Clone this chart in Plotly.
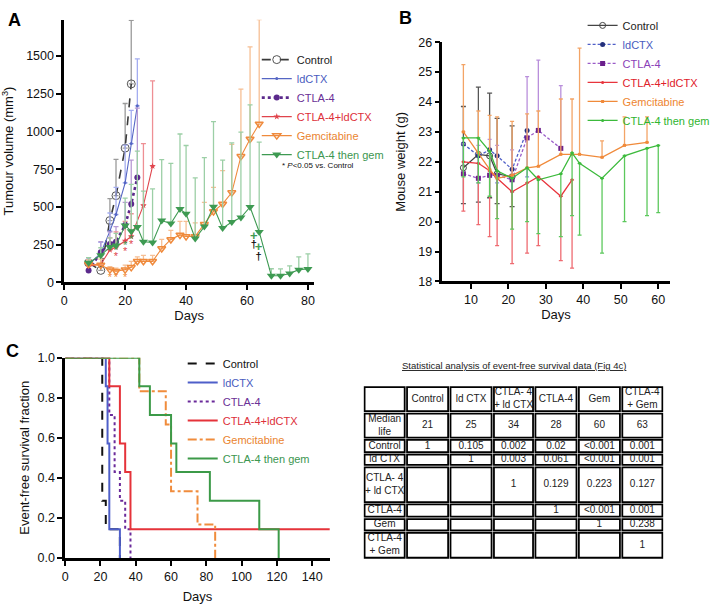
import plotly.graph_objects as go

W, H = 715, 605
NARROW = "Liberation Sans Narrow, Arial Narrow, Liberation Sans, Arial, sans-serif"
SANS = "Liberation Sans, Arial, sans-serif"

names = ["Control", "ldCTX", "CTLA-4", "CTLA-4+ldCTX", "Gemcitabine", "CTLA-4 then gem"]

# ---- A: tumour volume (mm3), mean + upper error
a_days = [8, 12, 15, 17, 20, 22, 24, 26, 29, 32, 35, 38, 40, 43, 46, 49, 52, 55, 58, 61, 64, 68, 71, 74, 77, 80]
a_ctrl = [130, 80, 410, 575, 890, 1315]
a_ctrl_err = [35, 30, 145, 240, 295, 420]
a_ld = [115, 195, 340, 450, 660, 920, 1170]
a_ld_err = [40, 70, 120, 180, 250, 220, 310]
a_ctla = [80, 200, 255, 270, 380, 520, 695]
a_ctla_err = [30, 70, 80, 100, 150, 290, 460]
a_combo_days = [8, 12, 15, 17, 20, 22, 26, 29]
a_combo = [110, 120, 215, 235, 275, 305, 510, 770]
a_combo_err = [40, 60, 80, 100, 130, 150, 410, 565]
a_gem = [120, 115, 85, 75, 85, 100, 140, 140, 140, 225, 285, 315, 305, 305, 385, 470, 520, 595, 835, 950, 1050]
a_gem_err = [30, 40, 20, 20, 30, 40, 30, 40, 40, 60, 60, 90, 100, 90, 145, 160, 220, 320, 445, 610, 690]
a_seq = [130, 180, 235, 245, 378, 340, 367, 270, 265, 410, 390, 486, 455, 291, 370, 501, 360, 400, 430, 500, 335,
         45, 45, 60, 85, 90]
a_seq_err = [35, 50, 60, 80, 180, 310, 503, 335, 355, 404, 398, 497, 452, 401, 457, 564, 450, 524, 565, 676, 595,
             46, 45, 50, 85, 100]
# significance marks
star_gem_days = [15, 17, 20]
star_gem = [30, 30, 30]
star_days = [17, 20, 22]
star_seq = [205, 240, 280]
star_combo = [165, 200, 245]
mark_days = [62.2, 63.8]
plus_seq = [300, 232]
dagger = [245, 170]

# ---- B: mouse weight (g)
b_days = [8, 12, 15, 17, 21, 25, 28, 34, 37, 39, 45, 51, 57, 60]
b_ctrl = [21.8, 22.25, 22.2, 21.6, 21.5]
b_ctrl_up = [2.05, 2.25, 2.1, 1.85, 1.7]
b_ctrl_dn = [1.2, 1.6, 1.4, 1.0, 1.0]
b_ld = [22.6, 22.2, 22.4, 22.2, 21.75, 23.05]
b_ld_dn = [1.0, 0.9, 0.9, 0.9, 0.75, 1.55]
b_ctla = [21.6, 21.45, 21.55, 21.55, 21.4, 22.8, 23.05, 22.45]
b_ctla_up = [1.0, 1.1, 1.2, 1.0, 1.0, 2.05, 2.35, 2.1]
b_combo = [22.0, 21.95, 21.7, 21.45, 21.0, 21.3, 21.5, 20.85, 21.4]
b_combo_dn = [1.65, 2.05, 2.2, 2.25, 2.4, 2.35, 2.3, 2.15, 2.95]
b_gem = [23.0, 22.3, 21.75, 21.45, 21.55, 21.8, 21.85, 22.25, 22.25, 22.25, 22.15, 22.55, 22.65]
b_gem_up = [2.25, 1.4, 1.8, 2.05, 1.8, 1.8, 1.85, 1.85, 1.85, 3.55, 0.55, 0.95, 0.85]
b_seq = [22.8, 22.8, 22.35, 21.7, 21.45, 21.8, 21.4, 21.6, 22.3, 21.95, 21.45, 22.2, 22.45, 22.55]
b_seq_dn = [1.3, 1.5, 1.5, 1.6, 1.7, 1.8, 1.8, 2.1, 2.1, 2.4, 2.5, 2.2, 2.25, 2.25]

# ---- C: event-free survival (step times / fraction)
c_ctrl_t = [0, 21, 23, 31]
c_ctrl_s = [1.0, 0.286, 0.143, 0.0]
c_ld_t = [0, 23, 24, 25, 31]
c_ld_s = [1.0, 0.857, 0.571, 0.143, 0.0]
c_ctla_t = [0, 25, 28, 31, 34, 37]
c_ctla_s = [1.0, 0.714, 0.429, 0.286, 0.143, 0.0]
c_combo_t = [0, 25, 31, 34, 37, 150]
c_combo_s = [1.0, 0.857, 0.571, 0.429, 0.143, 0.143]
c_gem_t = [0, 42, 57, 60, 75, 85]
c_gem_s = [1.0, 0.833, 0.667, 0.333, 0.167, 0.0]
c_seq_t = [0, 42, 48, 60, 63, 82, 110, 121]
c_seq_s = [1.0, 0.857, 0.714, 0.571, 0.429, 0.286, 0.143, 0.0]

# ---- table: stats of event-free survival
tbl_cols = ["Control", "ld CTX", "CTLA- 4<br>+ ld CTX", "CTLA-4", "Gem", "CTLA-4<br>+ Gem"]
tbl_rows = ["Median<br>life", "Control", "ld CTX", "CTLA- 4<br>+ ld CTX", "CTLA-4", "Gem", "CTLA-4<br>+ Gem"]
median_life = ["21", "25", "34", "28", "60", "63"]
p_values = [
    ["1", "0.105", "0.002", "0.02", "&lt;0.001", "0.001"],
    ["", "1", "0.003", "0.061", "&lt;0.001", "0.001"],
    ["", "", "1", "0.129", "0.223", "0.127"],
    ["", "", "", "1", "&lt;0.001", "0.001"],
    ["", "", "", "", "1", "0.238"],
    ["", "", "", "", "", "1"],
]
# cell geometry (pixels)
col_w = [43, 44, 44, 42, 44, 44, 43]
row_h = [27, 27, 15, 13, 38, 15, 14, 28]


def px(x):
    return x / W


def py(y):
    return 1 - y / H


def lab(name, color):
    return f'<span style="color:{color}">{name}</span>'


def up_err(vals, color, width=2.5):
    return dict(type="data", array=vals, arrayminus=[0] * len(vals), symmetric=False,
                color=color, thickness=1.3, width=width)


def dn_err(vals, color, width=2):
    return dict(type="data", array=[0] * len(vals), arrayminus=vals, symmetric=False,
                color=color, thickness=1.3, width=width)


fig = go.Figure()

# Panel A
a_style = [
    ("#3a3a3a", "#9a9a9a", a_days[:6], a_ctrl, a_ctrl_err, dict(symbol="circle-open", size=8, color="#555"), "dash", 1.6, "#222"),
    ("#5566c4", "#a4adf0", a_days[:7], a_ld, a_ld_err, dict(symbol="circle", size=3), "solid", 1.1, "#4a5cc0"),
    ("#5b2a8c", "#b79ad4", a_days[:7], a_ctla, a_ctla_err, dict(symbol="circle", size=6), "dot", 2.6, "#6a3096"),
    ("#e0444c", "#ee8f94", a_combo_days, a_combo, a_combo_err, dict(symbol="star", size=5), "solid", 1.1, "#dd2f3a"),
    ("#ef8a3c", "#f6bf94", a_days[:21], a_gem, a_gem_err, dict(symbol="triangle-down-open", size=7, line=dict(width=1.5)), "solid", 1.1, "#ea8430"),
    ("#3e9a52", "#9ccfa6", a_days, a_seq, a_seq_err, dict(symbol="triangle-down", size=8), "solid", 1.1, "#3c9650"),
]
for name, (c, ec, d, v, e, mk, dash, lw, tc) in zip(names, a_style):
    mk = dict(mk)
    mk.setdefault("color", c)
    fig.add_trace(go.Scatter(
        x=d, y=v, mode="lines+markers", name=lab(name, tc), legend="legend",
        line=dict(color=c, width=lw, dash=dash), marker=mk,
        error_y=up_err(e, ec), xaxis="x", yaxis="y", cliponaxis=False))

for d, v, c in [(star_gem_days, star_gem, "#ef8a3c"), (star_days, star_seq, "#3e9a52"), (star_days, star_combo, "#e0444c")]:
    fig.add_trace(go.Scatter(x=d, y=v, mode="text", text=["*"] * len(d), showlegend=False,
                             textfont=dict(color=c, size=11, family=SANS), xaxis="x", yaxis="y"))
fig.add_trace(go.Scatter(x=mark_days, y=plus_seq, mode="text", text=["<b>+</b>"] * 2, showlegend=False,
                         textfont=dict(color="#3e9a52", size=13, family=SANS), xaxis="x", yaxis="y"))
fig.add_trace(go.Scatter(x=mark_days, y=dagger, mode="text", text=["<b>†</b>"] * 2, showlegend=False,
                         textfont=dict(color="#111", size=11, family=SANS), xaxis="x", yaxis="y"))

# Panel B
b_style = [
    ("#444444", b_days[:5], b_ctrl, dict(type="data", array=b_ctrl_up, arrayminus=b_ctrl_dn, symmetric=False, color="#555", thickness=1.3, width=2.5),
     dict(symbol="circle-open", size=6, color="#444"), "solid", "#222"),
    ("#4f5fc8", b_days[:6], b_ld, dn_err(b_ld_dn, "#7f8ce0"), dict(symbol="circle", size=5, color="#24307c"), "3px,2px", "#4a5cc0"),
    ("#9a5cc8", b_days[:8], b_ctla, up_err(b_ctla_up, "#b98fdb", 2), dict(symbol="square", size=5, color="#6b1f8c"), "3px,2px", "#8a3fb8"),
    ("#e8343c", b_days[:9], b_combo, dn_err(b_combo_dn, "#ee6a70"), dict(symbol="circle", size=3, color="#e8343c"), "solid", "#e0202a"),
    ("#f08a3a", b_days[:13], b_gem, up_err(b_gem_up, "#f3a466", 2), dict(symbol="square", size=3, color="#f08a3a"), "solid", "#ee8530"),
    ("#3cba3c", b_days, b_seq, dn_err(b_seq_dn, "#5cc85c"), dict(symbol="circle", size=3, color="#3cba3c"), "solid", "#2fb52f"),
]
for name, (c, d, v, e, mk, dash, tc) in zip(names, b_style):
    fig.add_trace(go.Scatter(
        x=d, y=v, mode="lines+markers", name=lab(name, tc), legend="legend2",
        line=dict(color=c, width=1.3, dash=dash), marker=mk,
        error_y=e, xaxis="x2", yaxis="y2", cliponaxis=False))

# Panel C
c_style = [
    (c_ctrl_t, c_ctrl_s, "#111111", "dash"),
    (c_ld_t, c_ld_s, "#4e5fc9", "solid"),
    (c_ctla_t, c_ctla_s, "#6a2a9a", "dot"),
    (c_combo_t, c_combo_s, "#e5333a", "solid"),
    (c_gem_t, c_gem_s, "#f08c3c", "dashdot"),
    (c_seq_t, c_seq_s, "#3c9a48", "solid"),
]
c_text = ["#111", "#4a5cc0", "#6a3096", "#dd2f3a", "#ea8430", "#3c9650"]
for name, (t, s, c, dash), tc in zip(names, c_style, c_text):
    fig.add_trace(go.Scatter(
        x=t, y=s, mode="lines", line_shape="hv", name=lab(name, tc), legend="legend3",
        line=dict(color=c, width=2, dash=dash), xaxis="x3", yaxis="y3", cliponaxis=False))

# Table drawn on its own axis (1 unit = 1 px)
x_edges = [sum(col_w[:i]) for i in range(len(col_w) + 1)]
y_edges = [sum(row_h[:i]) for i in range(len(row_h) + 1)]
grid = [[""] + tbl_cols] + [[tbl_rows[0]] + median_life] + \
       [[tbl_rows[i + 1]] + p_values[i] for i in range(len(p_values))]
shapes = []
tx, ty, tt = [], [], []
for r, row in enumerate(grid):
    for c, val in enumerate(row):
        shapes.append(dict(type="rect", xref="x4", yref="y4",
                           x0=x_edges[c] + 1.2, x1=x_edges[c + 1] - 1.2,
                           y0=y_edges[r] + 1.2, y1=y_edges[r + 1] - 1.2,
                           line=dict(color="black", width=1.8)))
        if val:
            tx.append((x_edges[c] + x_edges[c + 1]) / 2)
            ty.append((y_edges[r] + y_edges[r + 1]) / 2)
            tt.append(val)
fig.add_trace(go.Scatter(x=tx, y=ty, text=tt, mode="text", textposition="middle center", showlegend=False,
                         textfont=dict(family=SANS, size=10, color="#222"), xaxis="x4", yaxis="y4",
                         hoverinfo="skip"))

axis_common = dict(showline=True, linecolor="black", linewidth=2.5, ticks="outside", ticklen=5,
                   tickwidth=2, tickcolor="black", showgrid=False, zeroline=False,
                   tickfont=dict(family=NARROW, size=12.5, color="#111"))
title_font = dict(family=SANS, size=13, color="#111")
hidden = dict(visible=False, showgrid=False, zeroline=False, fixedrange=True)
legend_common = dict(xanchor="left", yanchor="top", bgcolor="rgba(0,0,0,0)", font=dict(family=SANS, size=11))

fig.update_layout(
    width=W, height=H, margin=dict(l=0, r=0, t=0, b=0),
    paper_bgcolor="white", plot_bgcolor="white",
    font=dict(family=SANS, color="#111"),
    xaxis=dict(domain=[px(62), px(315)], range=[0, 82], tickvals=[0, 20, 40, 60, 80], anchor="y",
               title=dict(text="Days", font=title_font, standoff=4), **axis_common),
    yaxis=dict(domain=[py(282), py(13)], range=[0, 1740], tickvals=[0, 250, 500, 750, 1000, 1250, 1500], anchor="x",
               title=dict(text="Tumour volume (mm<sup>3</sup>)", font=title_font, standoff=10), **axis_common),
    xaxis2=dict(domain=[px(445), px(675)], range=[2.4, 63.0], tickvals=[10, 20, 30, 40, 50, 60], anchor="y2",
                title=dict(text="Days", font=title_font, standoff=4), **axis_common),
    yaxis2=dict(domain=[py(281), py(36)], range=[18, 26], dtick=1, anchor="x2",
                title=dict(text="Mouse weight (g)", font=title_font, standoff=10), **axis_common),
    xaxis3=dict(domain=[px(63), px(331)], range=[0, 150], dtick=20, anchor="y3",
                title=dict(text="Days", font=title_font, standoff=10), **axis_common),
    yaxis3=dict(domain=[py(564), py(359)], range=[0, 1], dtick=0.2, tickformat=".1f", anchor="x3",
                title=dict(text="Event-free survival fraction", font=title_font, standoff=6), **axis_common),
    xaxis4=dict(domain=[px(365), px(365 + x_edges[-1])], range=[0, x_edges[-1]], anchor="y4", **hidden),
    yaxis4=dict(domain=[py(388 + y_edges[-1]), py(388)], range=[y_edges[-1], 0], anchor="x4", **hidden),
    shapes=shapes,
    legend=dict(x=px(257), y=py(39), **legend_common),
    legend2=dict(x=px(587), y=py(4), **legend_common),
    legend3=dict(x=px(182), y=py(350), **legend_common),
    annotations=[
        dict(text="<b>A</b>", x=px(12), y=py(13), xref="paper", yref="paper", xanchor="center", yanchor="middle",
             showarrow=False, font=dict(family=SANS, size=18, color="black")),
        dict(text="<b>B</b>", x=px(408), y=py(11), xref="paper", yref="paper", xanchor="center", yanchor="middle",
             showarrow=False, font=dict(family=SANS, size=18, color="black")),
        dict(text="<b>C</b>", x=px(10), y=py(352), xref="paper", yref="paper", xanchor="center", yanchor="middle",
             showarrow=False, font=dict(family=SANS, size=18, color="black")),
        dict(text="* <i>P</i>&lt;0.05 vs. Control", x=px(281), y=py(162), xref="paper", yref="paper",
             xanchor="left", yanchor="middle", showarrow=False, font=dict(family=SANS, size=8, color="#111")),
        dict(text="<u>Statistical analysis of event-free survival data (Fig 4c)</u>", x=px(518), y=py(367),
             xref="paper", yref="paper", xanchor="center", yanchor="middle", showarrow=False,
             font=dict(family=SANS, size=9.5, color="#222")),
    ],
)

fig.write_html("out.html", config={"displayModeBar": False},
               post_script="document.body.style.margin='0';")
